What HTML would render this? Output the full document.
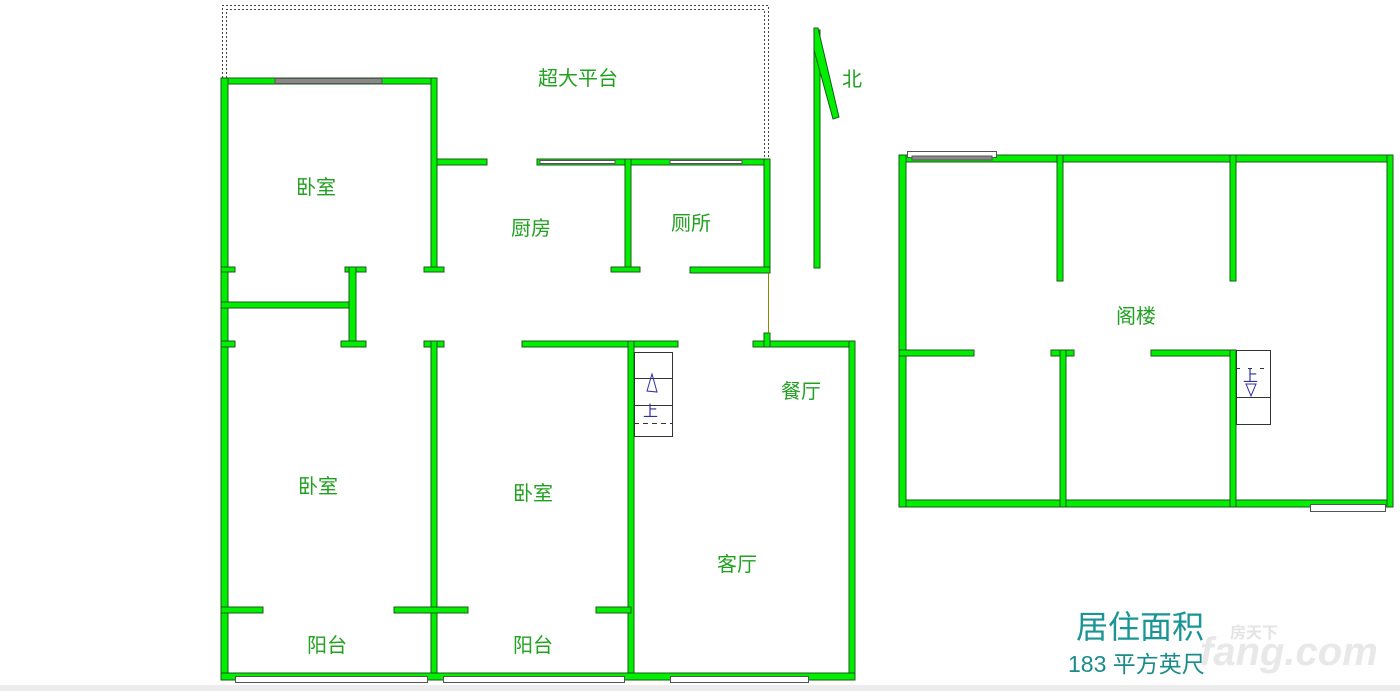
<!DOCTYPE html>
<html><head><meta charset="utf-8"><style>
html,body{margin:0;padding:0;background:#fff;width:1400px;height:691px;overflow:hidden}
svg{display:block}
text{font-family:"Liberation Sans","Noto Sans CJK SC",sans-serif}
</style></head><body>
<svg width="1400" height="691" viewBox="0 0 1400 691" xmlns="http://www.w3.org/2000/svg">
<rect x="0" y="685" width="1400" height="6" fill="#ececec"/>
<path d="M222.5,78 V5.5 H768.5 V160" fill="none" stroke="#444" stroke-dasharray="2,2"/>
<path d="M226.5,78 V9.5 H764.5 V160" fill="none" stroke="#444" stroke-dasharray="2,2"/>
<g fill="#00ee00" stroke="#1a5a1a" stroke-width="1">
<rect x="221" y="78" width="216" height="6"/>
<rect x="221" y="78" width="7" height="602"/>
<rect x="431" y="78" width="6" height="194"/>
<rect x="424" y="267" width="20" height="5"/>
<rect x="437" y="159" width="50" height="6"/>
<rect x="537" y="159" width="233" height="6"/>
<rect x="625" y="159" width="6" height="113"/>
<rect x="611" y="267" width="29" height="5"/>
<rect x="764" y="159" width="6" height="114"/>
<rect x="690" y="267" width="80" height="6"/>
<rect x="221" y="267" width="14" height="5"/>
<rect x="345" y="267" width="21" height="5"/>
<rect x="221" y="302" width="134" height="6"/>
<rect x="349" y="267" width="7" height="80"/>
<rect x="341" y="341" width="25" height="6"/>
<rect x="221" y="341" width="14" height="6"/>
<rect x="424" y="341" width="20" height="6"/>
<rect x="431" y="341" width="6" height="339"/>
<rect x="522" y="341" width="156" height="6"/>
<rect x="628" y="341" width="6" height="339"/>
<rect x="753" y="341" width="102" height="6"/>
<rect x="764" y="333" width="6" height="14"/>
<rect x="849" y="341" width="6" height="339"/>
<rect x="221" y="673" width="634" height="7"/>
<rect x="221" y="607" width="42" height="6"/>
<rect x="394" y="607" width="74" height="6"/>
<rect x="596" y="607" width="35" height="6"/>
<rect x="814" y="30" width="6" height="238"/>
<polygon points="814,28 818,28 839,117 833,119 814,50"/>
<rect x="899" y="155" width="494" height="7"/>
<rect x="899" y="500" width="494" height="7"/>
<rect x="899" y="155" width="7" height="352"/>
<rect x="1387" y="155" width="6" height="352"/>
<rect x="1057" y="155" width="6" height="126"/>
<rect x="1230" y="155" width="6" height="126"/>
<rect x="899" y="350" width="75" height="6"/>
<rect x="1051" y="350" width="23" height="6"/>
<rect x="1060" y="350" width="6" height="157"/>
<rect x="1151" y="350" width="85" height="6"/>
<rect x="1230" y="350" width="6" height="157"/>
</g>
<g fill="#fff" stroke="#555" stroke-width="1">
<rect x="275" y="78.5" width="107" height="5" fill="#888"/>
<rect x="540" y="160.5" width="75" height="3"/>
<rect x="670" y="160.5" width="72" height="3"/>
<rect x="235.5" y="676.5" width="192" height="6"/>
<rect x="443.5" y="676.5" width="181" height="6"/>
<rect x="670.5" y="676.5" width="138" height="6"/>
<rect x="907.5" y="151.5" width="89" height="6"/>
<rect x="912" y="156" width="80" height="4" fill="#888"/>
<rect x="1310.5" y="504.5" width="75" height="7"/>
<rect x="768" y="273" width="1" height="60" fill="#8a8a00" stroke="none"/>
</g>
<g fill="none" stroke="#333" stroke-width="1">
<rect x="634.5" y="352.5" width="38" height="84"/>
<line x1="634" y1="378.5" x2="672" y2="378.5"/>
<line x1="634" y1="405.5" x2="672" y2="405.5"/>
<line x1="634" y1="423.5" x2="672" y2="423.5" stroke-dasharray="5,4"/>
<rect x="1236.5" y="350.5" width="34" height="74"/>
<line x1="1236" y1="397.5" x2="1270" y2="397.5"/>
<line x1="1236" y1="368.5" x2="1270" y2="368.5" stroke-dasharray="4,8"/>
</g>
<polygon points="652,374 647,391 657,392" fill="none" stroke="#3030a0"/>
<polygon points="1246,384 1256,384 1251,396" fill="none" stroke="#3030a0"/>
<g fill="#3030a0" font-size="15">
<text x="643" y="416">上</text>
<text x="1243" y="381">上</text>
</g>
<g fill="#22a022" font-size="20" text-anchor="middle">
<text x="578" y="85">超大平台</text>
<text x="852" y="86">北</text>
<text x="316" y="194">卧室</text>
<text x="531" y="235">厨房</text>
<text x="691" y="230">厕所</text>
<text x="318" y="493">卧室</text>
<text x="533" y="500">卧室</text>
<text x="801" y="398">餐厅</text>
<text x="737" y="571">客厅</text>
<text x="327" y="652">阳台</text>
<text x="533" y="652">阳台</text>
<text x="1136" y="323">阁楼</text>
</g>
<text x="1200" y="665" font-size="40" font-weight="bold" fill="#e8e8e8" font-style="italic">fang.com</text>
<text x="1230" y="638" font-size="16" font-weight="bold" fill="#e4e4e4">房天下</text>
<text x="1076" y="638" font-size="32" fill="#1a9494">居住面积</text>
<text x="1068" y="672" font-size="23" fill="#1a8a8a">183 平方英尺</text>
</svg>
</body></html>
